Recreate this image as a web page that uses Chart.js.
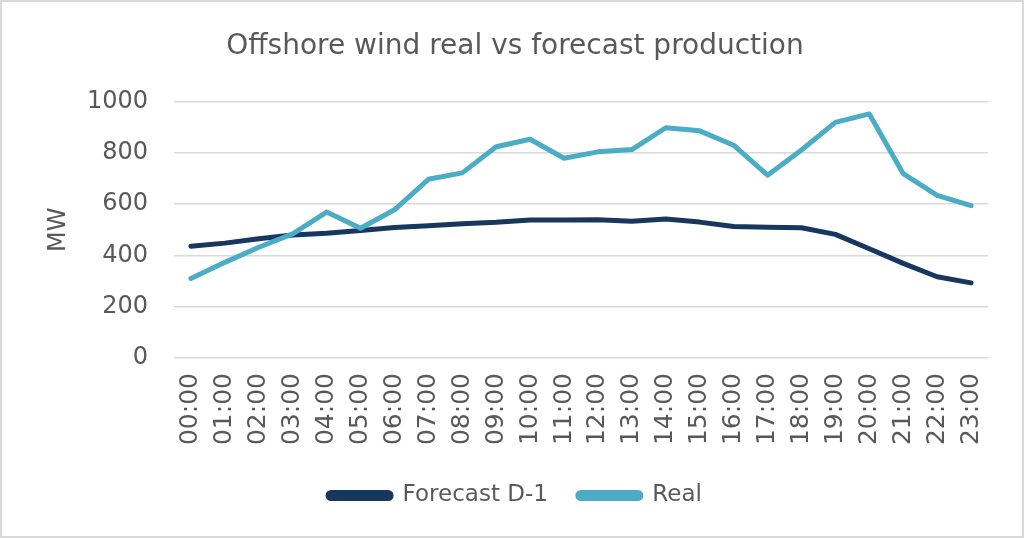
<!DOCTYPE html>
<html>
<head>
<meta charset="utf-8">
<script src="https://cdn.jsdelivr.net/npm/chart.js@4.4.1/dist/chart.umd.min.js"></script>
<style>
  html, body { margin: 0; padding: 0; background: #ffffff; }
  #wrap { position: relative; width: 1024px; height: 538px; box-sizing: border-box; border: 2px solid #d9d9d9; background: #fff; }
  #wrap canvas { display: block; }
</style>
</head>
<body>
<div id="wrap"><canvas id="c"></canvas></div>
<script>
const hours = ['00:00','01:00','02:00','03:00','04:00','05:00','06:00','07:00','08:00','09:00','10:00','11:00',
               '12:00','13:00','14:00','15:00','16:00','17:00','18:00','19:00','20:00','21:00','22:00','23:00'];
const forecastD1 = [436,448,465,480,487,497,509,516,524,529,538,538,539,533,542,530,513,510,508,482,426,369,317,293];
const realProd = [310,373,432,484,569,506,578,697,722,824,853,779,804,813,898,886,830,713,811,919,952,719,634,594];
const yTicks = [0,200,400,600,800,1000];

const textColor = '#595959';
const navy = '#17375e';
const lightBlue = '#4bacc6';

new Chart(document.getElementById('c'), {
  type: 'line',
  data: {
    labels: hours,
    datasets: [
      { label: 'Forecast D-1', data: forecastD1, borderColor: navy, backgroundColor: navy,
        borderWidth: 5, pointRadius: 0, tension: 0, borderCapStyle: 'round', borderJoinStyle: 'round', order: 1 },
      { label: 'Real', data: realProd, borderColor: lightBlue, backgroundColor: lightBlue,
        borderWidth: 5, pointRadius: 0, tension: 0, borderCapStyle: 'round', borderJoinStyle: 'round', order: 0 }
    ]
  },
  options: {
    responsive: true,
    maintainAspectRatio: false,
    animation: false,
    layout: { padding: { left: 40, right: 34, top: 0, bottom: 19 } },
    plugins: {
      title: {
        display: true,
        text: 'Offshore wind real vs forecast production',
        color: textColor,
        font: { family: 'DejaVu Sans', size: 28, weight: 'normal' },
        padding: { top: 28, bottom: 38 }
      },
      legend: {
        position: 'bottom',
        labels: {
          color: textColor,
          font: { family: 'DejaVu Sans', size: 23 },
          boxWidth: 63,
          boxHeight: 6,
          useBorderRadius: true,
          borderRadius: 3,
          padding: 30,
          sort: (a, b) => a.datasetIndex - b.datasetIndex
        }
      },
      tooltip: { enabled: false }
    },
    scales: {
      x: {
        offset: true,
        afterFit: (s) => { s.height = 96; },
        grid: { display: false, drawTicks: false },
        border: { display: false },
        ticks: {
          color: textColor,
          font: { family: 'DejaVu Sans', size: 25 },
          minRotation: 90, maxRotation: 90,
          autoSkip: false,
          padding: 15
        }
      },
      y: {
        min: 0, max: 1000,
        afterBuildTicks: (s) => { s.ticks = yTicks.map(v => ({ value: v })); },
        afterFit: (s) => { s.width = 132; },
        grid: { color: '#d9d9d9', lineWidth: 1.5, drawTicks: false },
        border: { display: false },
        ticks: {
          color: textColor,
          font: { family: 'DejaVu Sans', size: 24 },
          padding: 26,
          callback: (v) => String(v)
        },
        title: {
          display: true,
          text: 'MW',
          color: textColor,
          font: { family: 'DejaVu Sans', size: 24 },
          padding: { top: 2, bottom: 0 }
        }
      }
    }
  }
});
</script>
</body>
</html>
